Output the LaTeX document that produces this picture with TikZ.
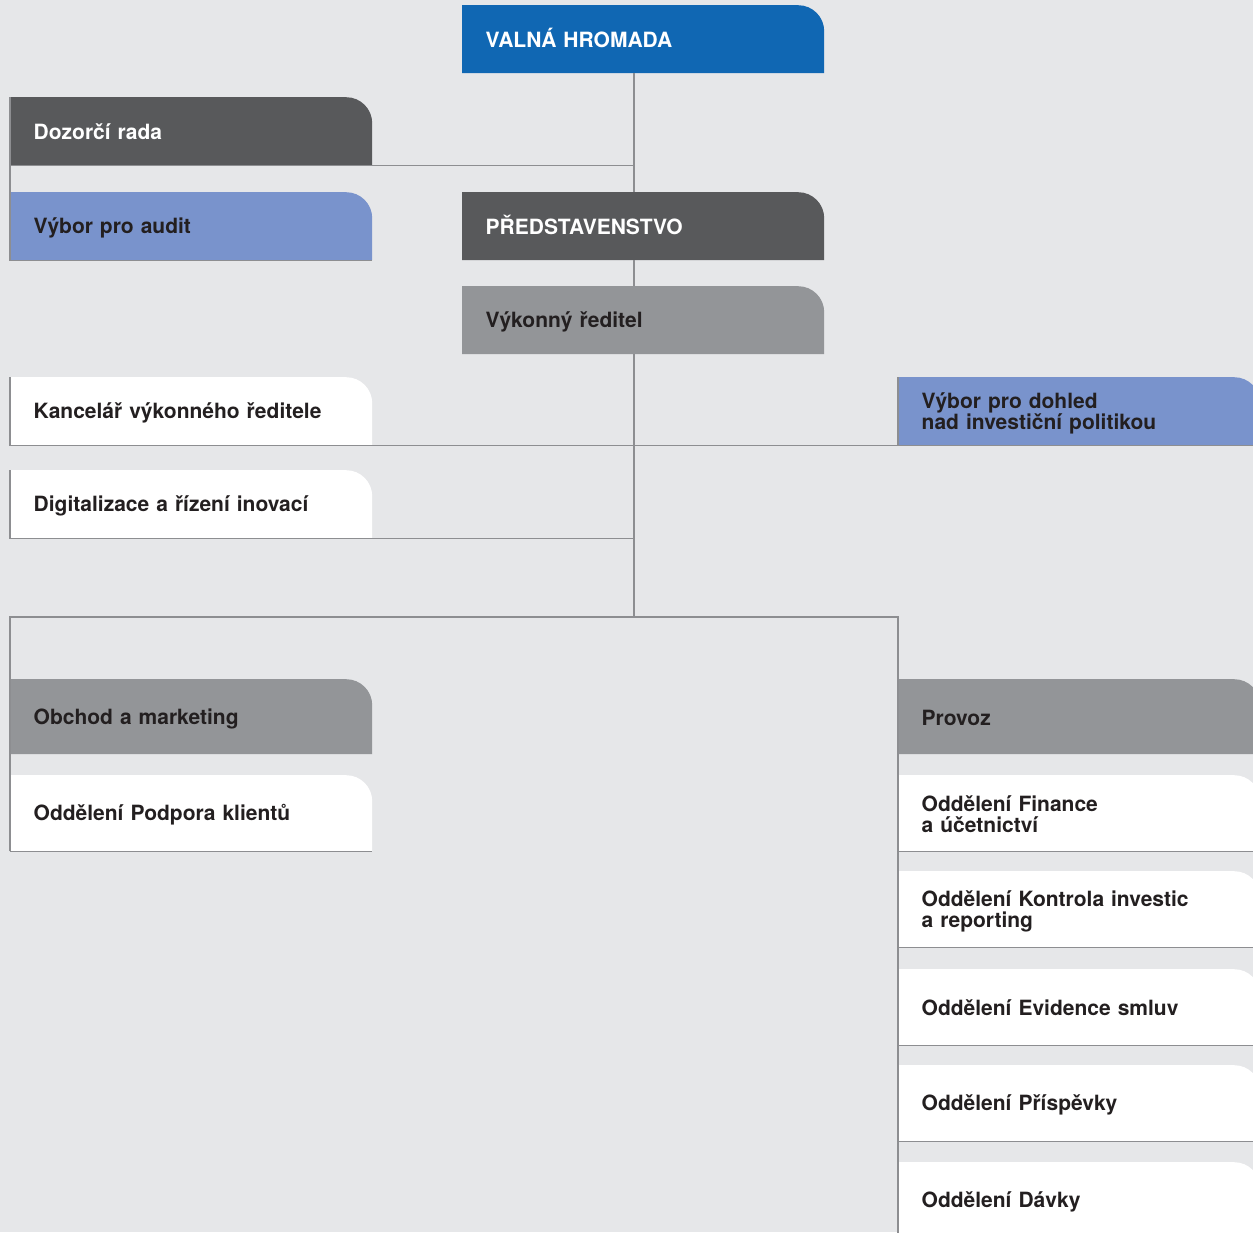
\documentclass[tikz,border=0pt]{standalone}
\usepackage{fontspec}
\setmainfont{TeX Gyre Heros}
\definecolor{bg}{HTML}{E6E7E9}
\definecolor{cblue}{HTML}{1067B3}
\definecolor{cdark}{HTML}{58595B}
\definecolor{clblue}{HTML}{7993CC}
\definecolor{cmid}{HTML}{939598}
\definecolor{cline}{HTML}{8D8E91}
\definecolor{txt}{HTML}{231F20}
\begin{document}
\begin{tikzpicture}[x=1pt,y=-1pt,
  shapefill/.style={path picture={\fill[#1] (path picture bounding box.south west) -- (path picture bounding box.north west) -- ([xshift=-26pt]path picture bounding box.north east) arc[start angle=90,end angle=0,radius=26pt] -- (path picture bounding box.south east) -- cycle;}},
  orgbox/.style={anchor=north west, inner xsep=23.5pt, inner ysep=0pt, text width=315pt, align=left, minimum height=68pt, font=\fontsize{21}{21}\selectfont\bfseries, text=txt,
    execute at begin node={\rule{0pt}{19.5pt}}, execute at end node={\rule[-2.5pt]{0pt}{2.5pt}}},
  tall/.style={minimum height=76pt},
  conn/.style={draw=cline, line width=1.5pt}
]
\fill[bg] (0,0) rectangle (1253,1232);
\useasboundingbox (0,0) rectangle (1253,1232);
\clip (0,0) rectangle (1253,1232);
\coordinate (spine) at (634,0);

\node[orgbox, shapefill=cblue, text=white] (valna) at (462,5) {VALNÁ HROMADA};
\node[orgbox, shapefill=cdark, text=white] (dozor) at (10,97) {Dozorčí rada};
\node[orgbox, shapefill=clblue] (audit) at (10,192) {Výbor pro audit};
\node[orgbox, shapefill=cdark, text=white] (pred) at (462,192) {PŘEDSTAVENSTVO};
\node[orgbox, shapefill=cmid] (vyk) at (462,286) {Výkonný ředitel};
\node[orgbox, shapefill=white] (kanc) at (10,377) {Kancelář výkonného ředitele};
\node[orgbox, shapefill=clblue] (dohled) at (898,377) {Výbor pro dohled\\nad investiční politikou};
\node[orgbox, shapefill=white] (digit) at (10,470) {Digitalizace a řízení inovací};
\node[orgbox, tall, minimum height=75pt, shapefill=cmid] (obchod) at (10,679) {Obchod a marketing};
\node[orgbox, tall, shapefill=white] (podpora) at (10,775) {Oddělení Podpora klientů};
\node[orgbox, tall, minimum height=75pt, shapefill=cmid] (provoz) at (898,679) {Provoz};
\node[orgbox, tall, shapefill=white] (fin) at (898,775) {Oddělení Finance\\a účetnictví};
\node[orgbox, tall, shapefill=white] (kontr) at (898,871) {Oddělení Kontrola investic\\a reporting};
\node[orgbox, tall, shapefill=white] (evid) at (898,969) {Oddělení Evidence smluv};
\node[orgbox, tall, shapefill=white] (prisp) at (898,1065) {Oddělení Příspěvky};
\node[orgbox, tall, shapefill=white] (davky) at (898,1162) {Oddělení Dávky};

\coordinate (junction) at (634,617);

% spine
\draw[conn] (valna.south -| spine) -- (pred.north -| spine);
\draw[conn] (pred.south -| spine) -- (vyk.north -| spine);
\draw[conn] (vyk.south -| spine) -- (junction);
% supervisory board
\draw[conn] (dozor.north west) -- (audit.south west) -- (audit.south east);
\draw[conn] (dozor.south west) -- (dozor.south -| spine);
% staff units
\draw[conn] (kanc.north west) -- (kanc.south west) -- (dohled.south east);
\draw[conn] (dohled.north west) -- (dohled.south west);
\draw[conn] (digit.north west) -- (digit.south west) -- (digit.south west -| spine);
% divisions
\draw[conn] (podpora.south west) -- (podpora.south west |- junction) -- (provoz.west |- junction) -- (davky.south west);
\draw[conn] (podpora.south west) -- (podpora.south east);
\draw[conn] (fin.south west) -- (fin.south east);
\draw[conn] (kontr.south west) -- (kontr.south east);
\draw[conn] (evid.south west) -- (evid.south east);
\draw[conn] (prisp.south west) -- (prisp.south east);
\end{tikzpicture}
\end{document}
